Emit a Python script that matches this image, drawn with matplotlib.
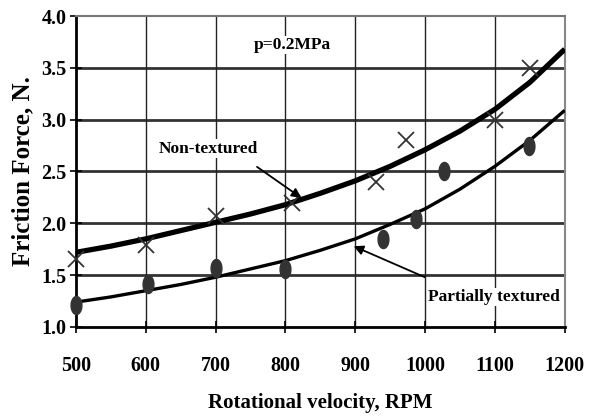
import numpy as np
import matplotlib
matplotlib.use('Agg')
import matplotlib.pyplot as plt

# measured points
rpm_non = [500, 600, 700, 810, 930, 973, 1100, 1150]
f_non = [1.66, 1.79, 2.07, 2.20, 2.40, 2.80, 3.00, 3.50]
rpm_part = [500, 603, 700, 800, 940, 987, 1027, 1149]
f_part = [1.21, 1.41, 1.57, 1.56, 1.85, 2.04, 2.50, 2.75]

# trend curves
rpm_fit = [500, 550, 600, 650, 700, 750, 800, 850, 900, 950, 1000, 1050, 1100, 1150, 1200]
fit_non = [1.72, 1.78, 1.85, 1.93, 2.01, 2.09, 2.18, 2.29, 2.41, 2.55, 2.71, 2.89, 3.10, 3.36, 3.68]
fit_part = [1.24, 1.29, 1.35, 1.41, 1.48, 1.56, 1.64, 1.74, 1.85, 1.99, 2.14, 2.33, 2.55, 2.80, 3.09]

xticks = [500, 600, 700, 800, 900, 1000, 1100, 1200]
yticks = [1.0, 1.5, 2.0, 2.5, 3.0, 3.5, 4.0]

plt.rcParams['font.family'] = ['Liberation Serif', 'DejaVu Serif']
plt.rcParams['font.weight'] = 'bold'

fig = plt.figure(figsize=(5.91, 4.16), dpi=100)
ax = fig.add_axes([0.1286, 0.214, 0.827, 0.7475])

ax.set_xlim(500, 1200)
ax.set_ylim(1.0, 4.0)
ax.set_xticks(xticks)
ax.set_yticks(yticks)
ax.set_xticklabels([str(v) for v in xticks], fontsize=14.5, fontweight='bold')
ax.set_yticklabels(['%.1f' % v for v in yticks], fontsize=14.5, fontweight='bold')
ax.tick_params(axis='x', direction='inout', length=8, width=1.2, pad=17)
ax.tick_params(axis='y', direction='inout', length=8, width=1.2, pad=3)

for v in yticks[1:-1]:
    ax.axhline(v, color='#333333', lw=2.0, zorder=1)
for v in xticks[1:-1]:
    ax.axvline(v, color='#222222', lw=1.0, zorder=1)

ax.spines['left'].set_linewidth(2)
ax.spines['bottom'].set_linewidth(2)
ax.spines['top'].set_color('#777777')
ax.spines['top'].set_linewidth(1.5)
ax.spines['right'].set_color('#888888')
ax.spines['right'].set_linewidth(1.5)

ax.plot(rpm_fit, fit_non, color='black', lw=3.8, zorder=3, solid_capstyle='butt')
ax.plot(rpm_fit, fit_part, color='black', lw=2.4, zorder=3, solid_capstyle='butt')

t = np.linspace(0, 2 * np.pi, 40)
ell = np.column_stack([0.6 * np.cos(t), np.sin(t)])
ax.plot(rpm_non, f_non, linestyle='none', marker='x', ms=11, mew=1.3,
        color='#333333', zorder=4, clip_on=False)
ax.plot(rpm_part, f_part, linestyle='none', marker=ell, ms=13,
        color='#333333', zorder=4, clip_on=False)

box = dict(facecolor='white', edgecolor='none', pad=1)
ax.text(810, 3.72, 'p=0.2MPa', fontsize=12.5, ha='center', va='center',
        bbox=box, zorder=2)
ax.text(689, 2.72, 'Non-textured', fontsize=12.5, ha='center', va='center',
        bbox=box, zorder=2)
ax.text(1099, 1.29, 'Partially textured', fontsize=12.5, ha='center', va='center',
        bbox=box, zorder=2)

arrow = dict(arrowstyle='-|>', color='black', lw=1.3, mutation_scale=14)
ax.annotate('', xy=(826, 2.23), xytext=(756, 2.56), arrowprops=arrow, zorder=5)
ax.annotate('', xy=(894, 1.79), xytext=(1003, 1.47), arrowprops=arrow, zorder=5)

ax.set_xlabel('Rotational velocity, RPM', fontsize=15, fontweight='bold', labelpad=12)
ax.set_ylabel('Friction Force, N.', fontsize=18, fontweight='bold', labelpad=5)

fig.savefig('out.png', dpi=100, facecolor='white')
